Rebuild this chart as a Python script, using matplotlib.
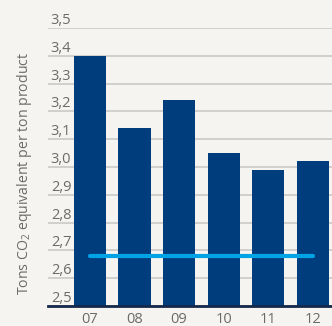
import matplotlib
matplotlib.use("Agg")
import matplotlib.pyplot as plt
import numpy as np

years = ["07", "08", "09", "10", "11", "12"]
emissions = [3.40, 3.14, 3.24, 3.05, 2.99, 3.02]
target = 2.68
yticks = [2.5, 2.6, 2.7, 2.8, 2.9, 3.0, 3.1, 3.2, 3.3, 3.4, 3.5]

bg = "#f5f4f0"
bar_color = "#003d7c"
line_color = "#00a3e6"
text_color = "#6b6b6b"

plt.rcParams['font.family'] = ['Open Sans', 'DejaVu Sans']
plt.rcParams['mathtext.fontset'] = 'custom'
plt.rcParams['mathtext.rm'] = 'Open Sans'

fig = plt.figure(figsize=(3.32, 3.26), dpi=100, facecolor=bg)
ax = fig.add_axes([48 / 332, 1 - 306 / 326, 284 / 332, 278 / 326])
ax.set_facecolor(bg)

x = np.arange(len(years))
ax.bar(x, [v - 2.5 for v in emissions], bottom=2.5, width=0.72,
       color=bar_color, zorder=3)
ax.plot([x[0], x[-1]], [target, target], color=line_color, lw=3,
        solid_capstyle="round", zorder=4)

ax.set_ylim(2.5, 3.5)
ax.set_xlim(-0.94, 5.43)
ax.set_yticks(yticks)
ax.set_yticklabels([f"{t:.1f}".replace(".", ",") for t in yticks])
ax.set_xticks(x)
ax.set_xticklabels(years)
ax.yaxis.grid(True, color="#c9c9c9", lw=1.2, zorder=0)

# tick labels sit above the gridlines, left aligned
for lbl in ax.get_yticklabels():
    lbl.set_horizontalalignment("left")
    lbl.set_verticalalignment("bottom")
ax.tick_params(axis="y", length=0, pad=-2, labelsize=10.5, colors=text_color)
ax.tick_params(axis="x", length=0, pad=4, labelsize=10.5, colors=text_color)

for s in ["top", "right", "left"]:
    ax.spines[s].set_visible(False)
ax.spines["bottom"].set_color("#15284a")
ax.spines["bottom"].set_linewidth(2)
ax.spines["bottom"].set_zorder(5)

fig.text(25 / 332, 1 - 173 / 326, r"Tons CO$_\mathrm{2}$ equivalent per ton product",
         rotation=90, ha="center", va="center", fontsize=10.2, color=text_color)

fig.savefig("out.png", dpi=100, facecolor=bg)
